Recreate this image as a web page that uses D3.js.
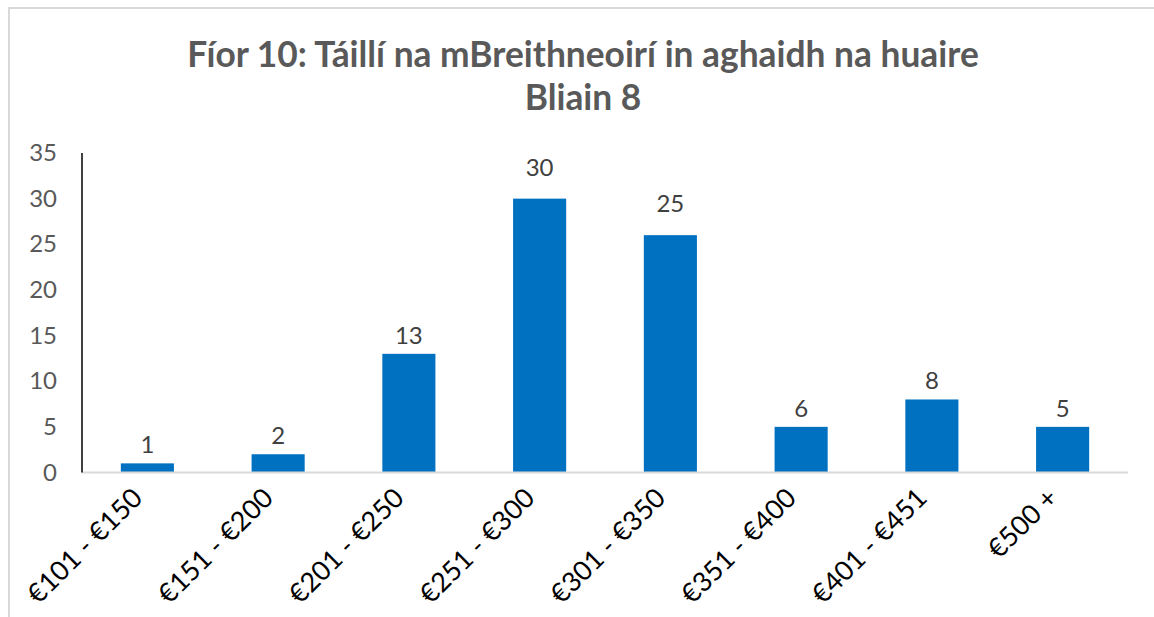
<!DOCTYPE html>
<html>
<head>
<meta charset="utf-8">
<script src="https://cdn.jsdelivr.net/npm/d3@7"></script>
<style>
	body { margin: 0; background: #fff; }
	svg { display: block; font-family: Lato, "Open Sans", sans-serif; }
</style>
</head>
<body>
<svg id="chart" width="1154" height="617"></svg>
<script>
// categories and values
var categories = ["€101 - €150", "€151 - €200", "€201 - €250", "€251 - €300",
                  "€301 - €350", "€351 - €400", "€401 - €451", "€500 +"];
var barValues = [1, 2, 13, 30, 26, 5, 8, 5];
var labelValues = [1, 2, 13, 30, 25, 6, 8, 5];
var yTicks = [0, 5, 10, 15, 20, 25, 30, 35];
var titleLines = ["Fíor 10: Táillí na mBreithneoirí in aghaidh na huaire", "Bliain 8"];

var svg = d3.select("#chart");

// outer frame
svg.append("rect")
	.attr("x", 9).attr("y", 8)
	.attr("width", 1200).attr("height", 700)
	.attr("fill", "none")
	.attr("stroke", "#d9d9d9")
	.attr("stroke-width", 2);

var plotLeft = 82, plotRight = 1128, plotTop = 153, plotBottom = 472.5;

var x = d3.scaleBand()
	.domain(categories)
	.range([plotLeft, plotRight])
	.paddingInner(0.594)
	.paddingOuter(0.297);

var y = d3.scaleLinear()
	.domain([0, 35])
	.range([plotBottom, plotTop]);

// title
var title = svg.append("g")
	.attr("fill", "#595959")
	.attr("font-weight", "bold")
	.attr("text-anchor", "middle");
title.selectAll("text")
	.data(titleLines)
	.enter().append("text")
	.attr("x", 583)
	.attr("y", function(d, i) { return 67 + i * 43; })
	.attr("font-size", 30)
	.text(function(d) { return d; });
// scale title font to the width it takes in the picture
var first = title.select("text").node();
var fs = 30 * 792 / first.getComputedTextLength();
title.selectAll("text").attr("font-size", fs);

// y axis labels
var yAxis = d3.axisLeft(y).tickValues(yTicks).tickSize(0).tickPadding(25);
var gy = svg.append("g")
	.attr("transform", "translate(" + plotLeft + ",0)")
	.call(yAxis);
gy.select(".domain").remove();
gy.selectAll("text")
	.attr("font-size", 24)
	.attr("font-family", "Lato, sans-serif")
	.attr("fill", "#595959");

// bars
svg.selectAll("rect.bar")
	.data(barValues)
	.enter().append("rect")
	.attr("class", "bar")
	.attr("x", function(d, i) { return x(categories[i]); })
	.attr("y", function(d) { return y(d); })
	.attr("width", x.bandwidth())
	.attr("height", function(d) { return y(0) - y(d); })
	.attr("fill", "#0070c0");

// baseline and vertical axis line
svg.append("line")
	.attr("x1", plotLeft).attr("x2", plotRight)
	.attr("y1", y(0)).attr("y2", y(0))
	.attr("stroke", "#d9d9d9").attr("stroke-width", 2);
svg.append("line")
	.attr("x1", plotLeft).attr("x2", plotLeft)
	.attr("y1", y(35)).attr("y2", y(0))
	.attr("stroke", "#000").attr("stroke-width", 1.5);

// data labels (the tall ones sit a little higher in the picture)
svg.selectAll("text.lbl")
	.data(labelValues)
	.enter().append("text")
	.attr("class", "lbl")
	.attr("x", function(d, i) { return x(categories[i]) + x.bandwidth() / 2; })
	.attr("y", function(d, i) { return y(barValues[i]) - (barValues[i] > 20 ? 23 : 10); })
	.attr("text-anchor", "middle")
	.attr("font-size", 24)
	.attr("fill", "#404040")
	.text(function(d) { return d; });

// category labels, rotated
svg.selectAll("text.cat")
	.data(categories)
	.enter().append("text")
	.attr("class", "cat")
	.attr("transform", function(d) {
		return "translate(" + (x(d) + x.bandwidth() / 2 - 10) + "," + 493 + ") rotate(-45)";
	})
	.attr("text-anchor", "end")
	.attr("dy", "0.35em")
	.attr("font-size", 27)
	.attr("fill", "#000")
	.text(function(d) { return d; });
</script>
</body>
</html>
